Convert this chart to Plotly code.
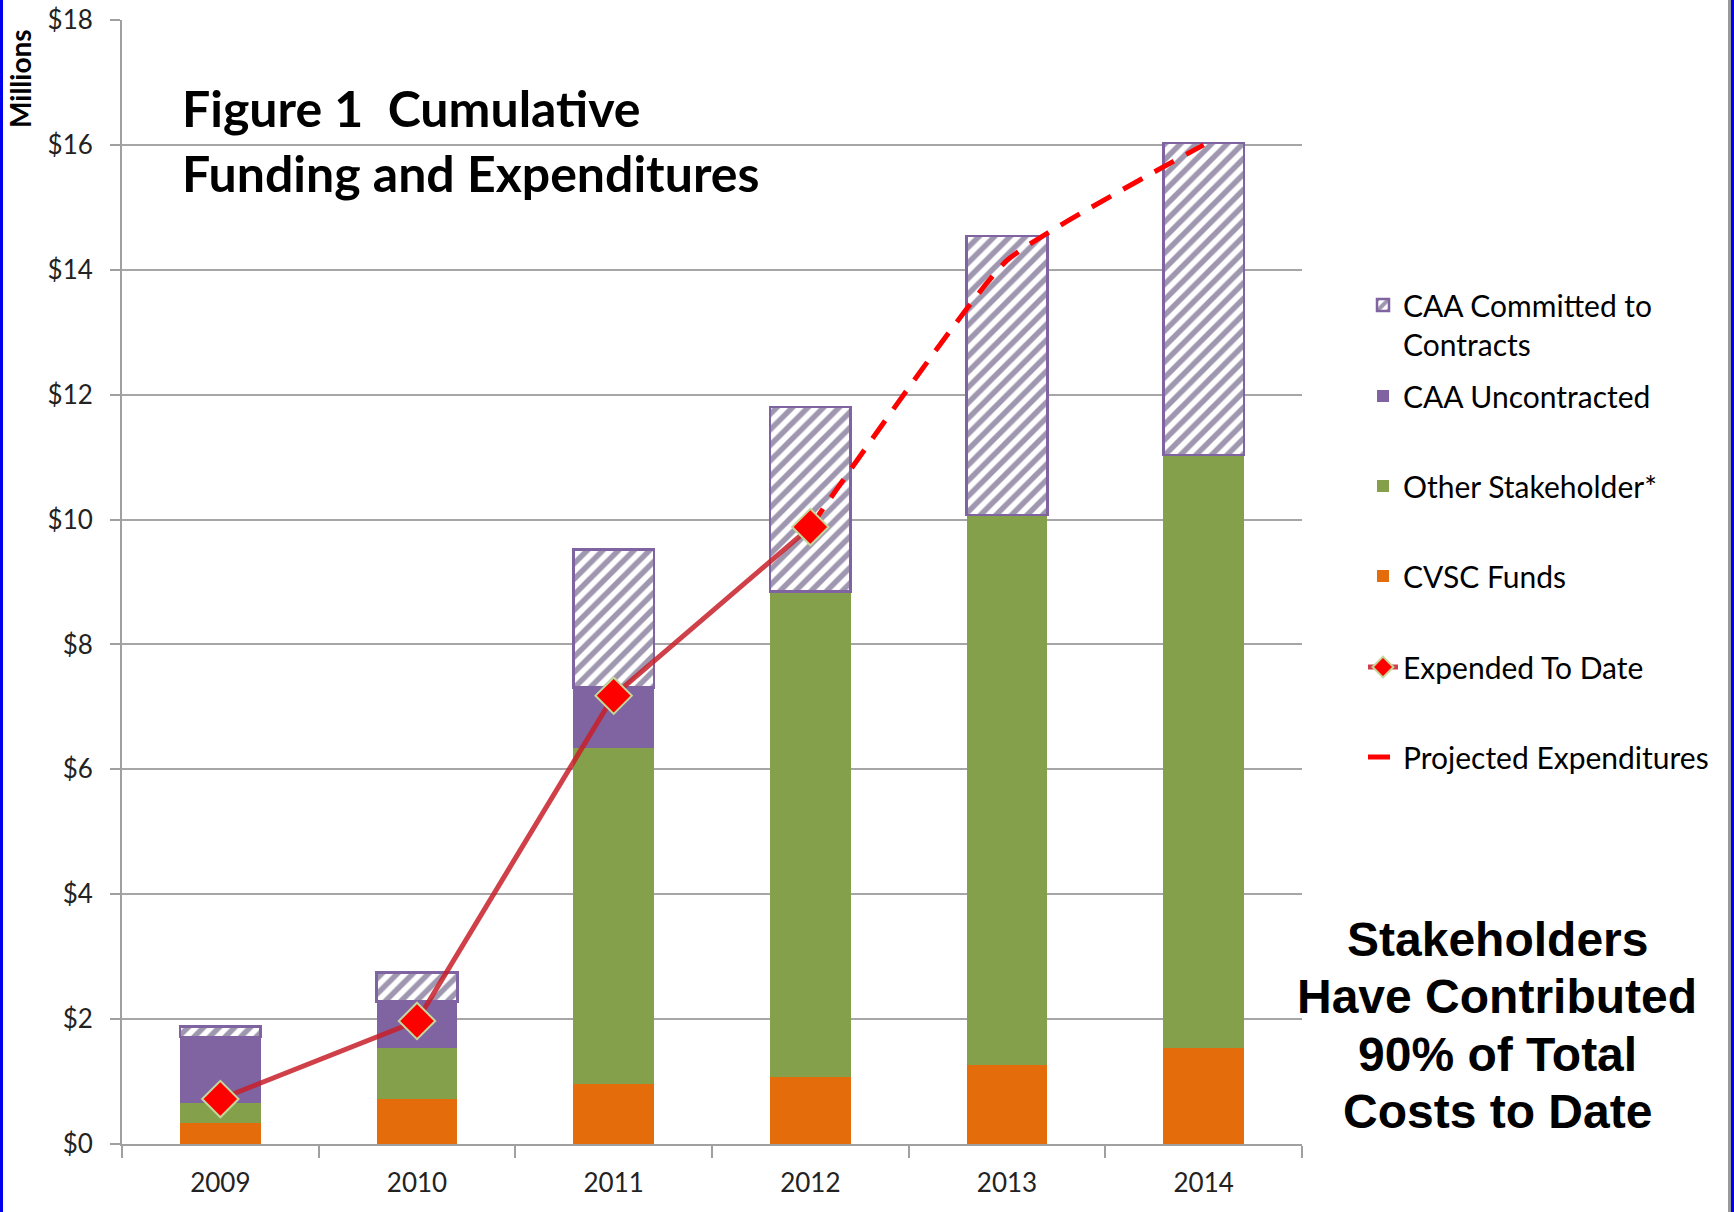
import plotly.graph_objects as go

years = ["2009", "2010", "2011", "2012", "2013", "2014"]
cvsc_funds = [0.34, 0.72, 0.96, 1.08, 1.26, 1.54]
other_stakeholder = [0.32, 0.82, 5.38, 7.77, 8.81, 9.49]
caa_uncontracted = [1.05, 0.74, 0.97, 0.0, 0.0, 0.0]
caa_committed = [0.17, 0.47, 2.21, 2.95, 4.47, 5.00]
expended_to_date = [0.72, 1.97, 7.18, 9.88, None, None]
projected_expenditures = [None, None, None, 9.88, 14.15, 16.0]
note_lines = ["Stakeholders", "Have Contributed", "90% of Total", "Costs to Date"]

FONT = "Lato"
ORANGE = "#E46C0A"
GREEN = "#84A04A"
PURPLE = "#8064A2"
DARKPURPLE = "#403060"

L, R, T, B = 122, 432, 20, 68
W, H = 1734, 1212
PW = W - L - R
PH = H - T - B


def px_x(x):
    return (x - L) / PW


def px_y(y):
    return (H - B - y) / PH


fig = go.Figure()

fig.add_bar(x=years, y=cvsc_funds, name="CVSC Funds",
            marker=dict(color=ORANGE, line=dict(width=0)), legend="legend4")
fig.add_bar(x=years, y=other_stakeholder, name="Other Stakeholder*",
            marker=dict(color=GREEN, line=dict(width=0)), legend="legend3")
fig.add_bar(x=years, y=caa_uncontracted, name="CAA Uncontracted",
            marker=dict(color=PURPLE, line=dict(width=0)), legend="legend2")
fig.add_bar(x=years, y=caa_committed, name="CAA Committed to<br>Contracts",
            marker=dict(color="white", line=dict(color=PURPLE, width=2.5),
                        pattern=dict(shape="/", fgcolor=DARKPURPLE, bgcolor="white",
                                     size=11, solidity=0.5, fillmode="overlay")),
            legend="legend")

fig.add_scatter(x=years, y=projected_expenditures, name="Projected Expenditures",
                mode="lines", line=dict(color="#FF0000", width=5, dash="22px,14px",
                                        shape="spline", smoothing=0.4),
                connectgaps=False, legend="legend6")
fig.add_scatter(x=years, y=expended_to_date, name="Expended To Date",
                mode="lines+markers",
                line=dict(color="rgba(200,30,40,0.85)", width=5),
                marker=dict(symbol="diamond", size=28, color="#FF0000",
                            line=dict(color="#C4D79B", width=2)),
                legend="legend5")

legend_rows = [310, 396, 486, 576, 667, 757]
legend_names = ["legend", "legend2", "legend3", "legend4", "legend5", "legend6"]
text_x = 1403
legend_layout = {}
for name, yrow in zip(legend_names, legend_rows):
    first = name == "legend"
    legend_layout[name] = dict(
        x=px_x(text_x - 40), y=px_y(yrow - 31 if first else yrow),
        xanchor="left", yanchor="top" if first else "middle",
        font=dict(family=FONT, size=30, color="#000000"),
        bgcolor="rgba(0,0,0,0)", borderwidth=0, valign="top",
        itemwidth=30, tracegroupgap=0,
    )

annotations = [
    dict(text="<b>Figure 1  Cumulative<br>Funding and Expenditures</b>",
         xref="paper", yref="paper", x=px_x(180), y=px_y(76), xanchor="left", yanchor="top",
         align="left", showarrow=False, font=dict(family=FONT, size=50, color="#000000")),
    dict(text="<b>Millions</b>", textangle=-90, xref="paper", yref="paper",
         x=px_x(20), y=px_y(79), xanchor="center", yanchor="middle", showarrow=False,
         font=dict(family=FONT, size=28, color="#000000")),
]
note_y = [939, 996, 1054, 1111]
for line, yy in zip(note_lines, note_y):
    annotations.append(dict(
        text="<b>" + line + "</b>", xref="paper", yref="paper", x=px_x(1497), y=px_y(yy),
        xanchor="center", yanchor="middle", showarrow=False,
        font=dict(family="Liberation Sans", size=48, color="#000000")))

fig.update_layout(
    width=W, height=H,
    margin=dict(l=L, r=R, t=T, b=B, pad=0, autoexpand=False),
    paper_bgcolor="white", plot_bgcolor="white",
    barmode="stack", bargap=0.59,
    font=dict(family=FONT, color="#000000"),
    showlegend=True,
    **legend_layout,
    xaxis=dict(
        type="category", showgrid=False, showline=True, linecolor="#A0A0A0", linewidth=2,
        ticks="outside", tickson="boundaries", ticklen=12, tickcolor="#A0A0A0", tickwidth=2,
        tickfont=dict(family=FONT, size=26, color="#222222"), ticklabelstandoff=15,
        automargin=False,
    ),
    yaxis=dict(
        range=[0, 18], dtick=2, tickprefix="$", showgrid=True, gridcolor="#A6A6A6", gridwidth=2,
        showline=True, linecolor="#A0A0A0", linewidth=2, zeroline=False,
        ticks="outside", ticklen=10, tickcolor="#A0A0A0", tickwidth=2,
        tickfont=dict(family=FONT, size=26, color="#222222"), ticklabelstandoff=12,
        automargin=False,
    ),
    annotations=annotations,
    shapes=[
        dict(type="rect", xref="paper", yref="paper", x0=px_x(0), x1=px_x(3), y0=px_y(H), y1=px_y(0),
             fillcolor="#0000EE", line=dict(width=0), layer="above"),
        dict(type="rect", xref="paper", yref="paper", x0=px_x(1728), x1=px_x(1731), y0=px_y(H), y1=px_y(0),
             fillcolor="#999999", line=dict(width=0), layer="above"),
        dict(type="rect", xref="paper", yref="paper", x0=px_x(1731), x1=px_x(1734), y0=px_y(H), y1=px_y(0),
             fillcolor="#0000EE", line=dict(width=0), layer="above"),
    ],
)

fig.write_html("out.html")
